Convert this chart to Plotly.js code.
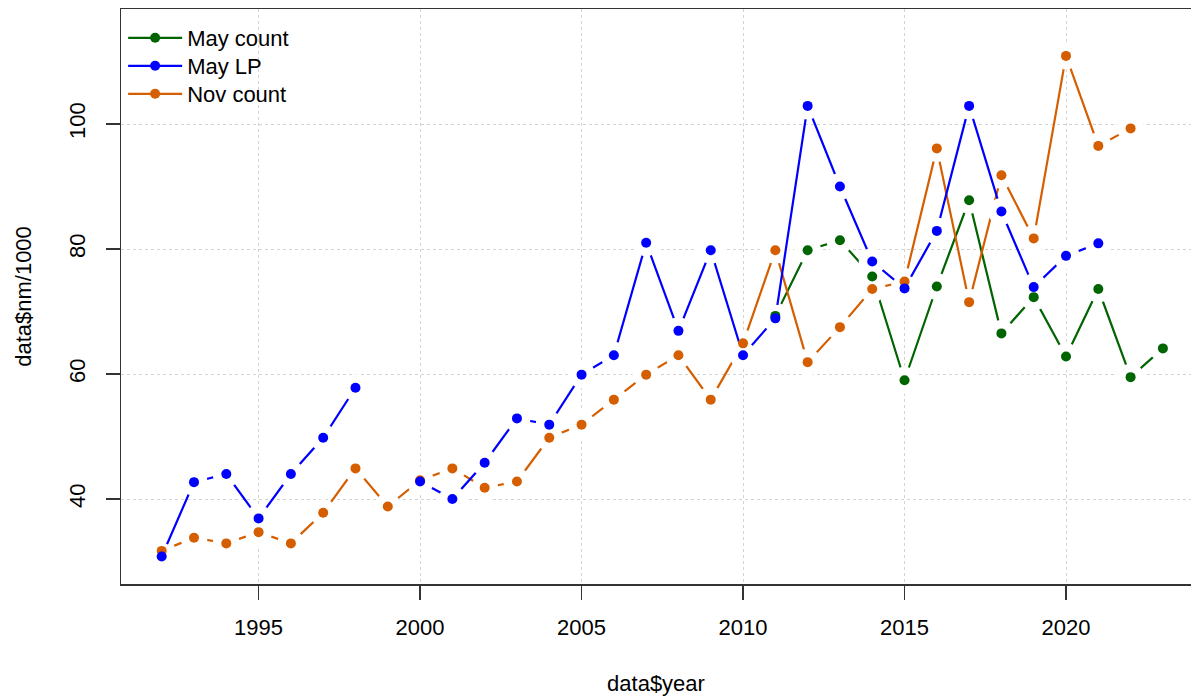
<!DOCTYPE html>
<html>
<head>
<meta charset="utf-8">
<script src="https://cdn.plot.ly/plotly-3.0.1.min.js"></script>
<style>
html,body{margin:0;padding:0;background:#fff;overflow:hidden}
#chart{width:1191px;height:697px}
</style>
</head>
<body>
<div id="chart"></div>
<script>
// ---- data (in thousands) ----
const years = [1992,1993,1994,1995,1996,1997,1998,1999,2000,2001,2002,2003,2004,2005,2006,2007,
               2008,2009,2010,2011,2012,2013,2014,2015,2016,2017,2018,2019,2020,2021,2022,2023];

const mayCount = [null,null,null,null,null,null,null,null,null,null,null,null,null,null,null,null,
                  null,null,null,69.3,79.8,81.4,75.6,59.0,74.0,87.8,66.5,72.3,62.8,73.6,59.5,64.1];

const mayLP = [30.8,42.7,44.0,36.9,44.0,49.8,57.8,null,42.8,40.0,45.8,52.9,51.9,59.9,63.0,81.0,
               66.9,79.8,63.0,68.9,102.9,90.0,78.0,73.7,82.9,102.9,86.0,73.9,78.9,80.9,null,null];

const novCount = [31.7,33.8,32.9,34.7,32.9,37.8,44.9,38.8,43.0,44.9,41.8,42.8,49.8,51.9,55.9,59.9,
                  63.0,55.9,64.9,79.8,61.9,67.5,73.6,74.8,96.1,71.5,91.8,81.7,110.9,96.5,99.3,null];

const seriesNames = ['May count', 'May LP', 'Nov count'];
const seriesColors = ['#006400', '#0000FF', '#D55E00'];
const xTicks = [1995, 2000, 2005, 2010, 2015, 2020];
const yTicks = [40, 60, 80, 100];

const seriesValues = [mayCount, mayLP, novCount];
const drawOrder = [0, 2, 1];

const traces = [];
// each series: its line, then a white disc at every point (the "type = b" gaps)
drawOrder.forEach(i => {
  traces.push({
    type: 'scatter', x: years, y: seriesValues[i], mode: 'lines',
    connectgaps: false,
    line: {color: seriesColors[i], width: 2.2},
    showlegend: false, hoverinfo: 'skip'
  });
  traces.push({
    type: 'scatter', x: years, y: seriesValues[i], mode: 'markers',
    marker: {color: '#ffffff', size: 27, opacity: 1, line: {width: 0}},
    showlegend: false, hoverinfo: 'skip'
  });
});
// the coloured points
drawOrder.forEach(i => {
  traces.push({
    type: 'scatter', x: years, y: seriesValues[i], mode: 'markers',
    name: seriesNames[i],
    marker: {color: seriesColors[i], size: 10},
    showlegend: false
  });
});
// legend entries, one small legend per row
const legendIds = ['legend', 'legend2', 'legend3'];
[0, 1, 2].forEach(i => {
  traces.push({
    type: 'scatter', x: [null], y: [null], mode: 'lines+markers',
    name: seriesNames[i],
    line: {color: seriesColors[i], width: 2.2},
    marker: {color: seriesColors[i], size: 10},
    showlegend: true, legend: legendIds[i]
  });
});

const axisFont = {family: '"Liberation Sans", Arial, sans-serif', size: 22, color: '#000'};
function legendAt(yFrac) {
  return {
    x: 0.002, y: yFrac, xanchor: 'left', yanchor: 'top',
    bgcolor: 'rgba(0,0,0,0)', borderwidth: 0,
    font: axisFont, itemwidth: 54, tracegroupgap: 0
  };
}

const layout = {
  width: 1191, height: 697,
  margin: {l: 121, r: 0, t: 9, b: 113, pad: 0, autoexpand: false},
  paper_bgcolor: '#ffffff', plot_bgcolor: '#ffffff',
  font: axisFont,
  showlegend: true,
  legend: legendAt(0.9861),
  legend2: legendAt(0.9374),
  legend3: legendAt(0.8887),
  xaxis: {
    range: [1990.74, 2023.87], tickmode: 'array', tickvals: xTicks,
    ticktext: xTicks.map(String),
    ticks: 'outside', ticklen: 14, tickwidth: 1.3, tickcolor: '#333',
    ticklabelstandoff: 9,
    showline: true, mirror: true, linecolor: '#333', linewidth: 1.5,
    showgrid: true, gridcolor: '#d3d3d3', griddash: 'dot', gridwidth: 1,
    zeroline: false, automargin: false,
    tickfont: axisFont,
    title: {text: 'data$year', font: axisFont, standoff: 36}
  },
  yaxis: {
    range: [26.4, 118.4], tickmode: 'array', tickvals: yTicks,
    ticktext: yTicks.map(String), tickangle: -90,
    ticks: 'outside', ticklen: 14, tickwidth: 1.3, tickcolor: '#333',
    ticklabelstandoff: 12,
    showline: true, mirror: false, linecolor: '#333', linewidth: 1.5,
    showgrid: true, gridcolor: '#d3d3d3', griddash: 'dot', gridwidth: 1,
    zeroline: false, automargin: false,
    tickfont: axisFont,
    title: {text: 'data$nm/1000', font: axisFont, standoff: 27}
  }
};

Plotly.newPlot('chart', traces, layout, {displayModeBar: false, staticPlot: true});
</script>
</body>
</html>
